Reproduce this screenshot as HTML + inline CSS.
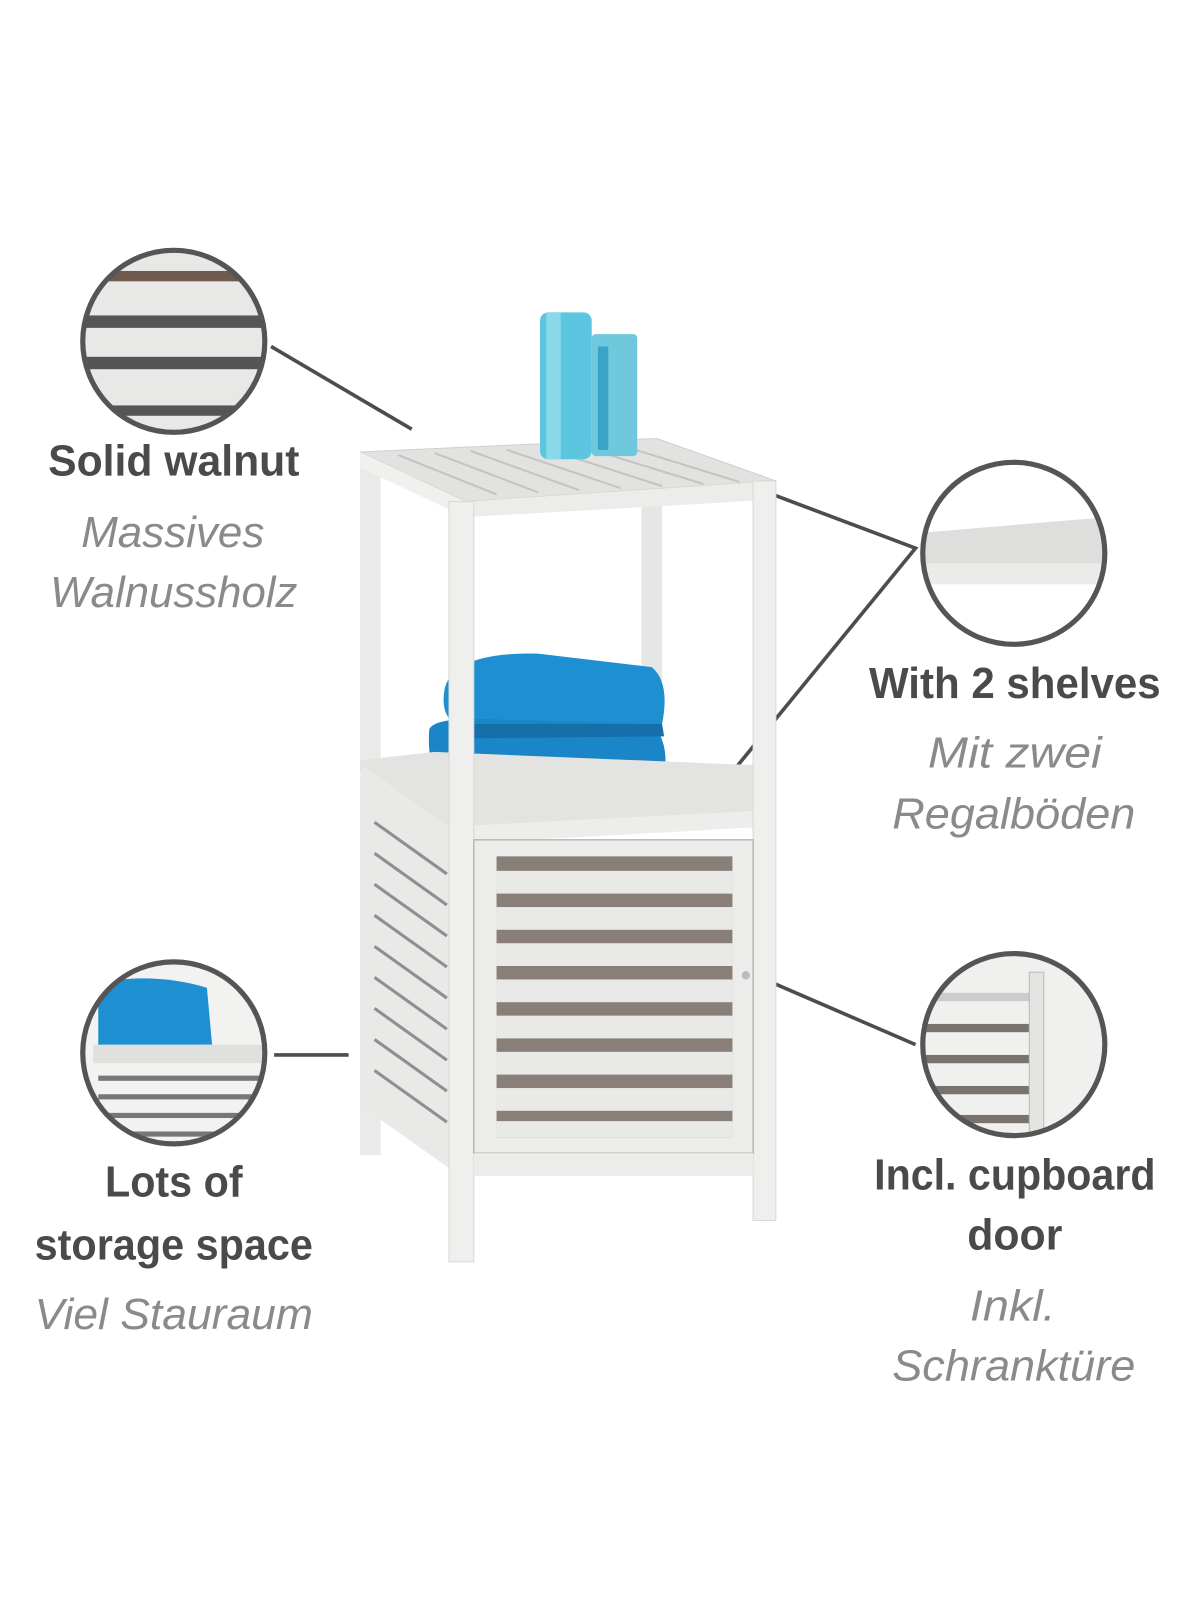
<!DOCTYPE html>
<html><head><meta charset="utf-8"><style>
html,body{margin:0;padding:0;background:#fff;}
svg{display:block;}
text{font-family:"Liberation Sans Narrow","Liberation Sans",sans-serif;}
.b{font-weight:bold;fill:#4a4a4a;font-size:42px;}
.i{font-style:italic;fill:#8a8a8a;font-size:42px;}
</style></head><body>
<svg width="1200" height="1600" viewBox="0 0 1160 1547" preserveAspectRatio="none" xmlns="http://www.w3.org/2000/svg">
<defs>
<clipPath id="c1"><circle cx="168" cy="330" r="86"/></clipPath>
<clipPath id="c2"><circle cx="980" cy="535" r="86"/></clipPath>
<clipPath id="c3"><circle cx="168" cy="1018" r="86"/></clipPath>
<clipPath id="c4"><circle cx="980" cy="1010" r="86"/></clipPath>
</defs>
<rect width="1160" height="1547" fill="#fff"/>

<!-- connector lines -->
<g stroke="#4d4d4d" stroke-width="3.5" fill="none">
<line x1="262" y1="335" x2="398" y2="415"/>
<polyline points="712,465 885,530 705,750"/>
<line x1="265" y1="1020" x2="337" y2="1020"/>
<line x1="730" y1="943" x2="885" y2="1010"/>
</g>

<!-- furniture -->
<g>
<!-- back legs -->
<rect x="620" y="480" width="20" height="245" fill="#e6e6e4"/>
<rect x="348" y="437" width="20" height="680" fill="#eaeae8"/>
<!-- top shelf -->
<polygon points="348,437 635,424 750,465 450,485" fill="#e2e2e0" stroke="#cfcfcd"/>
<g stroke="#c4c4c2" stroke-width="2">
<line x1="385" y1="440" x2="480" y2="478"/><line x1="420" y1="438" x2="520" y2="476"/>
<line x1="455" y1="436" x2="560" y2="474"/><line x1="490" y1="435" x2="600" y2="472"/>
<line x1="525" y1="433" x2="640" y2="470"/><line x1="560" y1="431" x2="680" y2="468"/>
<line x1="595" y1="429" x2="715" y2="466"/>
</g>
<polygon points="450,485 750,465 750,483 450,500" fill="#ececea"/>
<polygon points="348,437 450,485 450,500 348,452" fill="#f0f0ee"/>
<!-- bottles -->
<rect x="522" y="302" width="50" height="142" rx="8" fill="#5cc6e0"/>
<rect x="528" y="302" width="14" height="142" fill="#8ad9ea"/>
<rect x="572" y="323" width="44" height="118" rx="4" fill="#6fc8dc"/>
<rect x="578" y="335" width="10" height="100" fill="#3aa3c8"/>
<!-- towels -->
<path d="M430,665 Q440,630 520,632 L630,645 Q648,660 640,700 L440,700 Q425,690 430,665Z" fill="#1e8fd0"/>
<path d="M415,705 Q420,695 460,695 L630,700 Q650,720 640,760 Q600,790 520,788 L430,780 Q412,740 415,705Z" fill="#1a86c8"/>
<path d="M440,700 L640,700 L642,712 L440,714Z" fill="#156fa8"/>
<!-- middle shelf -->
<polygon points="348,735 420,727 735,740 730,795 458,815 348,745" fill="#e3e3e1"/>
<polygon points="458,798 730,784 730,800 458,815" fill="#ededeb"/>
<!-- left side panel -->
<polygon points="350,740 435,800 435,1130 350,1070" fill="#e9e9e7"/>
<g stroke="#8f8f8f" stroke-width="3">
<line x1="362" y1="795" x2="432" y2="845"/><line x1="362" y1="825" x2="432" y2="875"/>
<line x1="362" y1="855" x2="432" y2="905"/><line x1="362" y1="885" x2="432" y2="935"/>
<line x1="362" y1="915" x2="432" y2="965"/><line x1="362" y1="945" x2="432" y2="995"/>
<line x1="362" y1="975" x2="432" y2="1025"/><line x1="362" y1="1005" x2="432" y2="1055"/>
<line x1="362" y1="1035" x2="432" y2="1085"/>
</g>
<!-- front legs -->
<rect x="434" y="485" width="24" height="735" fill="#efefed" stroke="#d8d8d6"/>
<rect x="728" y="465" width="22" height="715" fill="#efefed" stroke="#d8d8d6"/>
<!-- door -->
<rect x="458" y="812" width="270" height="303" fill="#ececea" stroke="#b9b9b7" stroke-width="1.5"/>
<rect x="480" y="828" width="228" height="272" fill="#8a7f78"/>
<g fill="#e9e9e7">
<rect x="480" y="842" width="228" height="22"/><rect x="480" y="877" width="228" height="22"/>
<rect x="480" y="912" width="228" height="22"/><rect x="480" y="947" width="228" height="22"/>
<rect x="480" y="982" width="228" height="22"/><rect x="480" y="1017" width="228" height="22"/>
<rect x="480" y="1052" width="228" height="22"/><rect x="480" y="1084" width="228" height="16"/>
</g>
<rect x="458" y="1115" width="270" height="22" fill="#ececea"/>
<circle cx="721" cy="943" r="4" fill="#bbb"/>
</g>

<!-- circle 1 -->
<g clip-path="url(#c1)">
<rect x="80" y="240" width="180" height="180" fill="#e8e8e6"/>
<rect x="80" y="262" width="180" height="10" fill="#6e5a4e"/>
<rect x="80" y="305" width="180" height="12" fill="#555"/>
<rect x="80" y="345" width="180" height="12" fill="#555"/>
<rect x="80" y="392" width="180" height="10" fill="#555"/>
</g>
<circle cx="168" cy="330" r="88" fill="none" stroke="#555" stroke-width="5"/>
<!-- circle 2 -->
<g clip-path="url(#c2)">
<rect x="890" y="440" width="180" height="190" fill="#fff"/>
<polygon points="892,515 1070,500 1070,545 892,545" fill="#dededc"/>
<rect x="892" y="545" width="178" height="20" fill="#ebebe9"/>
</g>
<circle cx="980" cy="535" r="88" fill="none" stroke="#555" stroke-width="5"/>
<!-- circle 3 -->
<g clip-path="url(#c3)">
<rect x="80" y="930" width="180" height="180" fill="#f2f2f0"/>
<path d="M95,950 Q150,940 200,955 L205,1010 L95,1012Z" fill="#1e8fd0"/>
<rect x="90" y="1010" width="170" height="18" fill="#e0e0de"/>
<g fill="#777"><rect x="95" y="1040" width="165" height="5"/><rect x="95" y="1058" width="165" height="5"/><rect x="95" y="1076" width="165" height="5"/><rect x="95" y="1094" width="165" height="5"/></g>
</g>
<circle cx="168" cy="1018" r="88" fill="none" stroke="#555" stroke-width="5"/>
<!-- circle 4 -->
<g clip-path="url(#c4)">
<rect x="890" y="920" width="180" height="180" fill="#f0f0ee"/>
<rect x="895" y="960" width="100" height="8" fill="#ccc"/>
<g fill="#7a726c"><rect x="895" y="990" width="100" height="8"/><rect x="895" y="1020" width="100" height="8"/><rect x="895" y="1050" width="100" height="8"/><rect x="895" y="1078" width="100" height="8"/></g>
<rect x="995" y="940" width="14" height="160" fill="#e4e4e2" stroke="#bbb"/>
</g>
<circle cx="980" cy="1010" r="88" fill="none" stroke="#555" stroke-width="5"/>

<!-- labels -->
<g text-anchor="middle">
<text class="b" x="168" y="460" textLength="243" lengthAdjust="spacingAndGlyphs">Solid walnut</text>
<text class="i" x="167" y="529" textLength="177" lengthAdjust="spacingAndGlyphs">Massives</text>
<text class="i" x="168" y="587" textLength="239" lengthAdjust="spacingAndGlyphs">Walnussholz</text>
<text class="b" x="981" y="675" textLength="282" lengthAdjust="spacingAndGlyphs">With 2 shelves</text>
<text class="i" x="981" y="742" textLength="168" lengthAdjust="spacingAndGlyphs">Mit zwei</text>
<text class="i" x="980" y="801" textLength="235" lengthAdjust="spacingAndGlyphs">Regalböden</text>
<text class="b" x="168" y="1157" textLength="133" lengthAdjust="spacingAndGlyphs">Lots of</text>
<text class="b" x="168" y="1218" textLength="269" lengthAdjust="spacingAndGlyphs">storage space</text>
<text class="i" x="168" y="1285" textLength="269" lengthAdjust="spacingAndGlyphs">Viel Stauraum</text>
<text class="b" x="981" y="1150" textLength="272" lengthAdjust="spacingAndGlyphs">Incl. cupboard</text>
<text class="b" x="981" y="1208" textLength="92" lengthAdjust="spacingAndGlyphs">door</text>
<text class="i" x="979" y="1277" textLength="83" lengthAdjust="spacingAndGlyphs">Inkl.</text>
<text class="i" x="980" y="1335" textLength="235" lengthAdjust="spacingAndGlyphs">Schranktüre</text>
</g>
</svg>
</body></html>
